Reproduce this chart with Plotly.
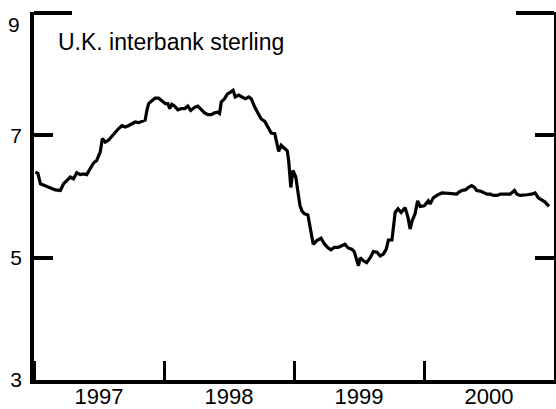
import plotly.graph_objects as go

dates = [
    "1997-01-05", "1997-01-12", "1997-01-19", "1997-02-02", "1997-02-16", "1997-03-02", "1997-03-16",
    "1997-03-25", "1997-04-03", "1997-04-13", "1997-04-22", "1997-05-01", "1997-05-11", "1997-05-20",
    "1997-05-29", "1997-06-08", "1997-06-17", "1997-06-26", "1997-07-06", "1997-07-12", "1997-07-20",
    "1997-07-29", "1997-08-08", "1997-08-17", "1997-08-26", "1997-09-05", "1997-09-14", "1997-09-23",
    "1997-10-03", "1997-10-12", "1997-10-22", "1997-10-31", "1997-11-09", "1997-11-14", "1997-11-19",
    "1997-11-28", "1997-12-07", "1997-12-17", "1997-12-26",
    "1998-01-05", "1998-01-12", "1998-01-17", "1998-01-23", "1998-01-31", "1998-02-09", "1998-02-19",
    "1998-02-28", "1998-03-09", "1998-03-17", "1998-03-28", "1998-04-06", "1998-04-16", "1998-04-25",
    "1998-05-04", "1998-05-14", "1998-05-23", "1998-06-01", "1998-06-06", "1998-06-11", "1998-06-20",
    "1998-06-28", "1998-07-07", "1998-07-14", "1998-07-20", "1998-07-30", "1998-08-08", "1998-08-18",
    "1998-08-27", "1998-09-03", "1998-09-13", "1998-09-22", "1998-10-01", "1998-10-11", "1998-10-20",
    "1998-10-29", "1998-11-08", "1998-11-13", "1998-11-19", "1998-11-26", "1998-12-06", "1998-12-13",
    "1998-12-17", "1998-12-23", "1998-12-29",
    "1999-01-06", "1999-01-13", "1999-01-18", "1999-01-23", "1999-01-30", "1999-02-09", "1999-02-15",
    "1999-02-24", "1999-03-06", "1999-03-18", "1999-03-27", "1999-04-07", "1999-04-15", "1999-04-24",
    "1999-05-05", "1999-05-15", "1999-05-24", "1999-06-02", "1999-06-12", "1999-06-19", "1999-06-26",
    "1999-07-01", "1999-07-06", "1999-07-15", "1999-07-24", "1999-08-03", "1999-08-12", "1999-08-22",
    "1999-08-31", "1999-09-09", "1999-09-17", "1999-09-23", "1999-10-03", "1999-10-07", "1999-10-12",
    "1999-10-20", "1999-10-29", "1999-11-09", "1999-11-17", "1999-11-23", "1999-11-29", "1999-12-07",
    "1999-12-14", "1999-12-21",
    "2000-01-02", "2000-01-13", "2000-01-18", "2000-01-27", "2000-02-06", "2000-02-20", "2000-03-05",
    "2000-03-19", "2000-04-02", "2000-04-07", "2000-04-16", "2000-04-26", "2000-05-05", "2000-05-14",
    "2000-05-22", "2000-05-28", "2000-06-07", "2000-06-16", "2000-06-26", "2000-07-05", "2000-07-14",
    "2000-07-24", "2000-08-02", "2000-08-11", "2000-08-21", "2000-08-30", "2000-09-11", "2000-09-18",
    "2000-09-27", "2000-10-06", "2000-10-16", "2000-10-28", "2000-11-08", "2000-11-17", "2000-11-27",
    "2000-12-06", "2000-12-17",
]

rates = [
    6.40, 6.38, 6.21, 6.18, 6.15, 6.11, 6.10,
    6.21, 6.26, 6.32, 6.29, 6.39, 6.36, 6.37,
    6.36, 6.45, 6.55, 6.59, 6.73, 6.95, 6.89,
    6.92, 6.99, 7.05, 7.11, 7.16, 7.14, 7.16,
    7.19, 7.22, 7.21, 7.23, 7.25, 7.41, 7.52,
    7.57, 7.61, 7.61, 7.57,
    7.52, 7.52, 7.44, 7.51, 7.48, 7.42, 7.44,
    7.44, 7.48, 7.41, 7.46, 7.48, 7.42, 7.37,
    7.34, 7.34, 7.37, 7.38, 7.36, 7.55, 7.60,
    7.68, 7.71, 7.74, 7.63, 7.66, 7.63, 7.60,
    7.63, 7.60, 7.46, 7.36, 7.27, 7.23, 7.14,
    7.04, 7.03, 6.92, 6.74, 6.84, 6.78, 6.75,
    6.59, 6.15, 6.43,
    6.32, 6.04, 5.85, 5.77, 5.72, 5.70, 5.50,
    5.22, 5.28, 5.32, 5.23, 5.16, 5.13, 5.17,
    5.17, 5.19, 5.22, 5.16, 5.14, 5.10, 4.98,
    4.87, 5.00, 4.95, 4.92, 5.00, 5.10, 5.09,
    5.03, 5.06, 5.14, 5.29, 5.29, 5.50, 5.74,
    5.80, 5.74, 5.82, 5.66, 5.47, 5.61, 5.72,
    5.93, 5.84,
    5.85, 5.93, 5.88, 5.98, 6.02, 6.06, 6.06,
    6.05, 6.04, 6.07, 6.10, 6.11, 6.15, 6.18,
    6.15, 6.10, 6.09, 6.07, 6.04, 6.04, 6.02,
    6.02, 6.04, 6.04, 6.04, 6.04, 6.10, 6.04,
    6.02, 6.02, 6.03, 6.04, 6.06, 5.98, 5.95,
    5.91, 5.84,
]

y_ticks = [3, 5, 7]
y_top_tick = [9]
y_top_label = "9"
title_text = "U.K. interbank sterling"

FONT = "Liberation Sans, Arial, Helvetica, sans-serif"

fig = go.Figure()
fig.add_trace(go.Scatter(
    x=dates, y=rates, mode="lines",
    line=dict(color="black", width=3.2),
    hoverinfo="skip", showlegend=False,
))

fig.update_layout(
    width=556, height=409,
    margin=dict(l=34, r=2, t=12, b=29),
    paper_bgcolor="white", plot_bgcolor="white",
    font=dict(family=FONT, color="black", size=21),
    xaxis=dict(
        type="date",
        range=["1997-01-01", "2000-12-31"],
        tick0="1997-01-01", dtick="M12",
        ticklabelmode="period", tickformat="%Y",
        ticks="inside", ticklen=19, tickwidth=3, tickcolor="black",
        showline=True, linewidth=3.5, linecolor="black", mirror=False,
        showgrid=False, zeroline=False, automargin=False,
        tickfont=dict(size=22),
        ticklabelstandoff=-6,
    ),
    yaxis=dict(
        range=[3, 9.02], tickvals=y_ticks,
        ticks="inside", ticklen=19, tickwidth=3.5, tickcolor="black",
        showline=True, linewidth=3.5, linecolor="black", mirror="ticks",
        showgrid=False, zeroline=False, automargin=False,
        tickfont=dict(size=21),
        ticklabelstandoff=4,
        minor=dict(
            tickmode="array", tickvals=y_top_tick,
            ticks="inside", ticklen=38, tickwidth=3.5, tickcolor="black",
            showgrid=False,
        ),
    ),
    annotations=[
        dict(
            text=title_text, xref="paper", yref="paper",
            x=0.042, y=0.919, xanchor="left", yanchor="middle",
            showarrow=False, font=dict(size=23, family=FONT, color="black"),
        ),
        dict(
            text=y_top_label, xref="paper", yref="y",
            x=0, y=y_top_tick[0], xanchor="right", yanchor="middle",
            xshift=-12, yshift=-11,
            showarrow=False, font=dict(size=21, family=FONT, color="black"),
        ),
    ],
)

fig.write_html(
    "out.html",
    config={"displayModeBar": False},
    post_script="document.body.style.margin='0px'; document.body.style.overflow='hidden';",
)
